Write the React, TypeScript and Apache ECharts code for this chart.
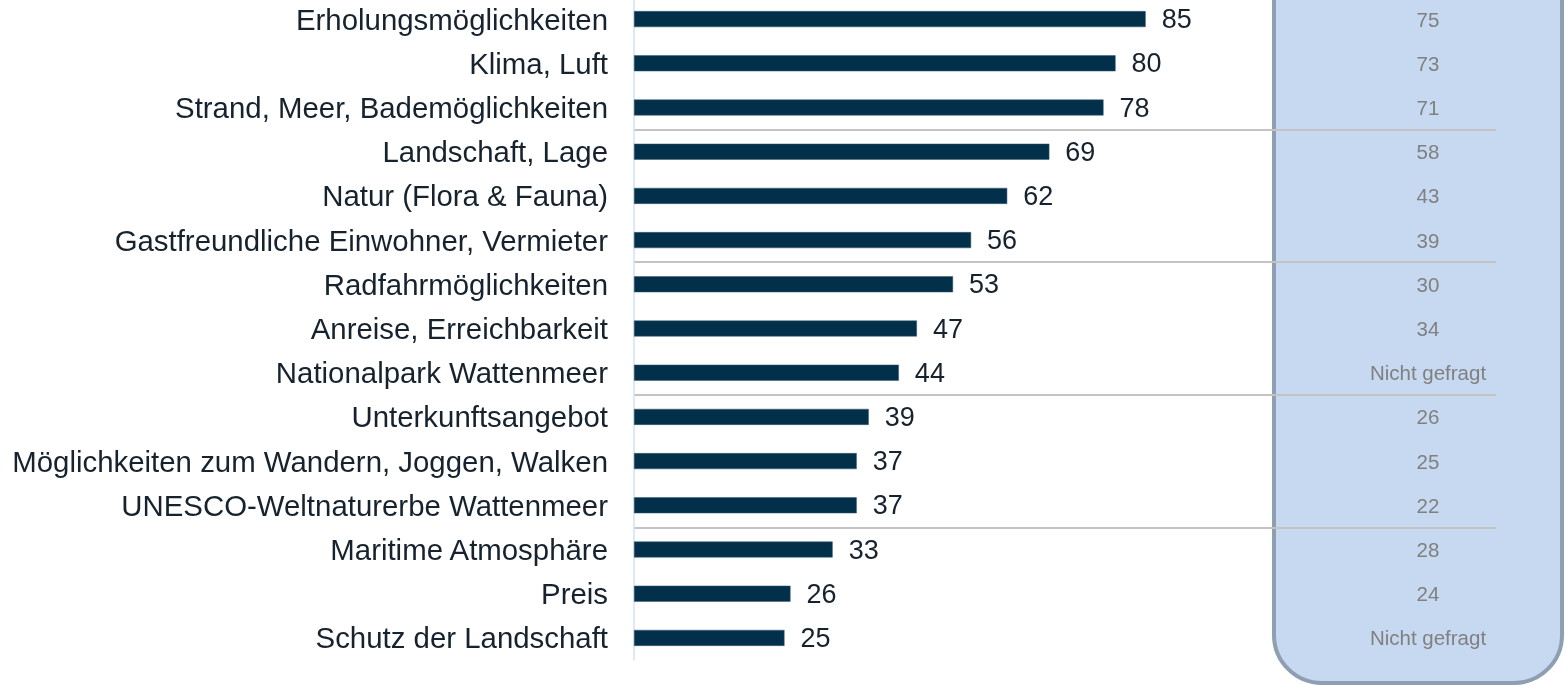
import React, { useEffect, useRef } from "react";
import * as echarts from "echarts";

const categories = [
  "Erholungsmöglichkeiten",
  "Klima, Luft",
  "Strand, Meer, Bademöglichkeiten",
  "Landschaft, Lage",
  "Natur (Flora & Fauna)",
  "Gastfreundliche Einwohner, Vermieter",
  "Radfahrmöglichkeiten",
  "Anreise, Erreichbarkeit",
  "Nationalpark Wattenmeer",
  "Unterkunftsangebot",
  "Möglichkeiten zum Wandern, Joggen, Walken",
  "UNESCO-Weltnaturerbe Wattenmeer",
  "Maritime Atmosphäre",
  "Preis",
  "Schutz der Landschaft",
];

const currentValues = [85, 80, 78, 69, 62, 56, 53, 47, 44, 39, 37, 37, 33, 26, 25];

const previousValues = [
  "75", "73", "71", "58", "43", "39", "30", "34", "Nicht gefragt",
  "26", "25", "22", "28", "24", "Nicht gefragt",
];

// group separators drawn after every third category
const groupSize = 3;

export default function App() {
  const ref = useRef<HTMLDivElement>(null);
  useEffect(() => {
    if (!ref.current) return;
    const chart = echarts.init(ref.current, undefined, { renderer: "svg" });
    const font = "'Liberation Sans', Arial, sans-serif";
    const separatorColors = Array.from({ length: categories.length + 1 }, (_, i) =>
      i > 0 && i < categories.length && i % groupSize === 0 ? "#c3c3c3" : "rgba(0,0,0,0)"
    );
    chart.setOption({
      animation: false,
      textStyle: { fontFamily: font },
      graphic: [
        {
          type: "rect",
          z: -10,
          shape: { x: 1274, y: -60, width: 1562 - 1274, height: 683 + 60, r: 48 },
          style: { fill: "#c6d9f1", stroke: "#8e9eb3", lineWidth: 4 },
        },
      ],
      grid: {
        left: 634,
        right: 1566 - 1496,
        top: -3,
        height: 663,
        outerBoundsMode: "none",
        containLabel: false,
      },
      xAxis: {
        type: "value",
        min: 0,
        max: 143.2,
        show: false,
        splitLine: { show: false },
      },
      yAxis: [
        {
          type: "category",
          data: categories,
          inverse: true,
          axisLine: { show: true, lineStyle: { color: "#cfe3f5", width: 1.5 } },
          axisTick: { show: false },
          axisLabel: {
            color: "#16222d",
            fontSize: 29.4,
            margin: 26,
            fontFamily: font,
          },
          splitLine: {
            show: true,
            interval: 0,
            lineStyle: { color: separatorColors, width: 2 },
          },
        },
        {
          type: "category",
          data: previousValues,
          inverse: true,
          position: "right",
          axisLine: { show: false },
          axisTick: { show: false },
          splitLine: { show: false },
          axisLabel: {
            inside: true,
            align: "center",
            margin: 68,
            color: "#808080",
            fontSize: 20.5,
            fontFamily: font,
          },
        },
      ],
      series: [
        {
          type: "bar",
          data: currentValues,
          barWidth: 16,
          itemStyle: { color: "#02304a", borderColor: "#3b5a70", borderWidth: 0.5 },
          label: {
            show: true,
            position: "right",
            distance: 16,
            color: "#16222d",
            fontSize: 27,
            fontFamily: font,
          },
        },
      ],
    });
    return () => chart.dispose();
  }, []);
  return (
    <div
      ref={ref}
      style={{ position: "fixed", left: 0, top: 0, width: 1566, height: 685 }}
    />
  );
}
